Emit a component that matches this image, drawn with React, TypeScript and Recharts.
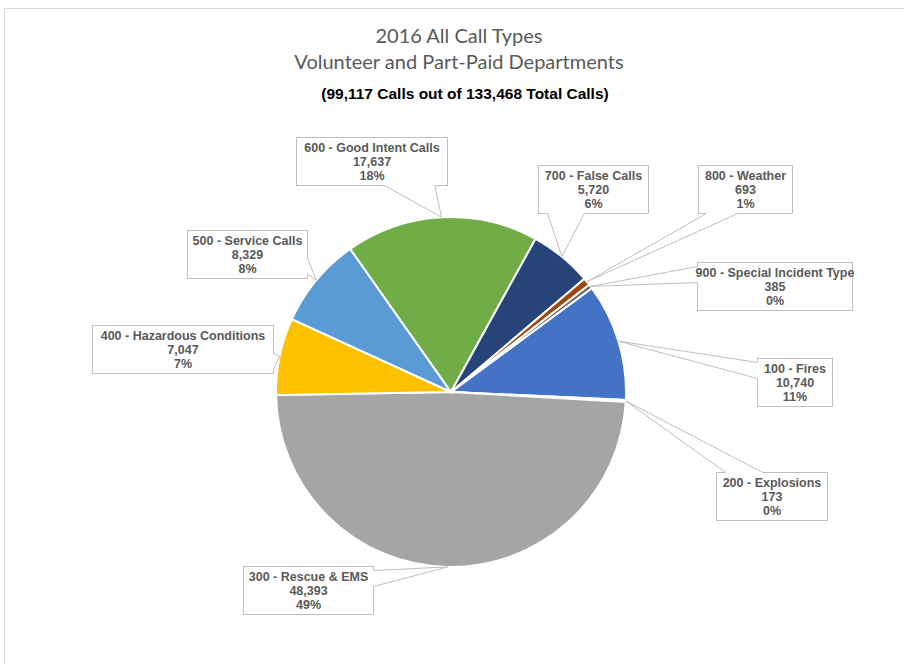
import { PieChart, Pie, Cell } from "recharts";

const categories = [
  "100 - Fires",
  "200 - Explosions",
  "300 - Rescue & EMS",
  "400 - Hazardous Conditions",
  "500 - Service Calls",
  "600 - Good Intent Calls",
  "700 - False Calls",
  "800 - Weather",
  "900 - Special Incident Type",
];
const callCounts = [10740, 173, 48393, 7047, 8329, 17637, 5720, 693, 385];

const sliceColors = [
  "#4472C4",
  "#ED7D31",
  "#A5A5A5",
  "#FFC000",
  "#5B9BD5",
  "#70AD47",
  "#264478",
  "#9E480E",
  "#636363",
];

// callout boxes, offset from the pie centre (dx, dy = top-left corner)
const calloutBoxes = [
  { dx: 306, dy: -34, w: 75 },
  { dx: 265, dy: 80, w: 111 },
  { dx: -208, dy: 174, w: 130 },
  { dx: -359, dy: -67, w: 181 },
  { dx: -264, dy: -162, w: 120 },
  { dx: -155, dy: -255, w: 151 },
  { dx: 87, dy: -227, w: 110 },
  { dx: 247, dy: -227, w: 94 },
  { dx: 246, dy: -130, w: 155 },
];

const data = categories.map((name, i) => ({ name, value: callCounts[i] }));

const BOX_H = 48;
const LINE = "#BFBFBF";
const RAD = Math.PI / 180;

function Callout(props: any) {
  const { cx, cy, midAngle, outerRadius, index, percent, value, name } = props;
  const tx = cx + outerRadius * Math.cos(-midAngle * RAD);
  const ty = cy + outerRadius * Math.sin(-midAngle * RAD);
  const box = calloutBoxes[index];
  const x = Math.round(cx + box.dx) + 0.5;
  const y = Math.round(cy + box.dy) + 0.5;
  const w = box.w;
  const h = BOX_H;
  const bcx = x + w / 2;
  const bcy = y + h / 2;
  const ndx = (tx - bcx) / w;
  const ndy = (ty - bcy) / h;

  let b1: [number, number];
  let b2: [number, number];
  if (Math.abs(ndy) > Math.abs(ndx)) {
    const ey = ndy > 0 ? y + h : y;
    const [f1, f2] = tx < bcx ? [1 / 12, 5 / 12] : [7 / 12, 11 / 12];
    b1 = [x + f1 * w, ey];
    b2 = [x + f2 * w, ey];
  } else {
    const ex = ndx > 0 ? x + w : x;
    const [f1, f2] = ty < bcy ? [1 / 12, 5 / 12] : [7 / 12, 11 / 12];
    b1 = [ex, y + f1 * h];
    b2 = [ex, y + f2 * h];
  }

  return (
    <g>
      <rect x={x} y={y} width={w} height={h} fill="#fff" stroke={LINE} />
      <polygon
        points={`${b1[0]},${b1[1]} ${tx},${ty} ${b2[0]},${b2[1]}`}
        fill="#fff"
        stroke="none"
      />
      <line x1={b1[0]} y1={b1[1]} x2={b2[0]} y2={b2[1]} stroke="#fff" strokeWidth={2} />
      <polyline
        points={`${b1[0]},${b1[1]} ${tx},${ty} ${b2[0]},${b2[1]}`}
        fill="none"
        stroke={LINE}
      />
      <text
        x={bcx}
        textAnchor="middle"
        fontFamily="'Liberation Sans', Arial, sans-serif"
        fontWeight="bold"
        fontSize={12.5}
        fill="#595959"
      >
        <tspan x={bcx} y={y + 14}>{name}</tspan>
        <tspan x={bcx} y={y + 28}>{value.toLocaleString("en-US")}</tspan>
        <tspan x={bcx} y={y + 42}>{Math.round(percent * 100)}%</tspan>
      </text>
    </g>
  );
}

export default function App() {
  return (
    <div
      style={{
        position: "absolute",
        left: 0,
        top: 0,
        width: 904,
        height: 664,
        overflow: "hidden",
        background: "#fff",
      }}
    >
      <div
        style={{
          position: "absolute",
          left: 4,
          top: 8,
          width: 1000,
          height: 1000,
          border: "1px solid #D9D9D9",
        }}
      />
      <div
        style={{
          position: "absolute",
          left: 0,
          top: 22,
          width: 918,
          textAlign: "center",
          fontFamily: "Lato, 'Open Sans', sans-serif",
          fontSize: 20,
          lineHeight: "26px",
          color: "#595959",
        }}
      >
        <div>2016 All Call Types</div>
        <div>Volunteer and Part-Paid Departments</div>
      </div>
      <div
        style={{
          position: "absolute",
          left: 0,
          top: 85,
          width: 930,
          textAlign: "center",
          fontFamily: "'Liberation Sans', Arial, sans-serif",
          fontWeight: "bold",
          fontSize: 15.5,
          color: "#000",
        }}
      >
        (99,117 Calls out of 133,468 Total Calls)
      </div>
      <div style={{ position: "absolute", left: 0, top: 0 }}>
        <PieChart
          width={904}
          height={664}
          margin={{ top: 0, right: 0, bottom: 0, left: 0 }}
        >
          <Pie
            data={data}
            dataKey="value"
            nameKey="name"
            cx={451}
            cy={392}
            outerRadius={175}
            startAngle={36.4}
            endAngle={-323.6}
            stroke="#fff"
            strokeWidth={2}
            label={Callout}
            labelLine={false}
            isAnimationActive={false}
          >
            {data.map((d, i) => (
              <Cell key={d.name} fill={sliceColors[i]} />
            ))}
          </Pie>
        </PieChart>
      </div>
    </div>
  );
}
